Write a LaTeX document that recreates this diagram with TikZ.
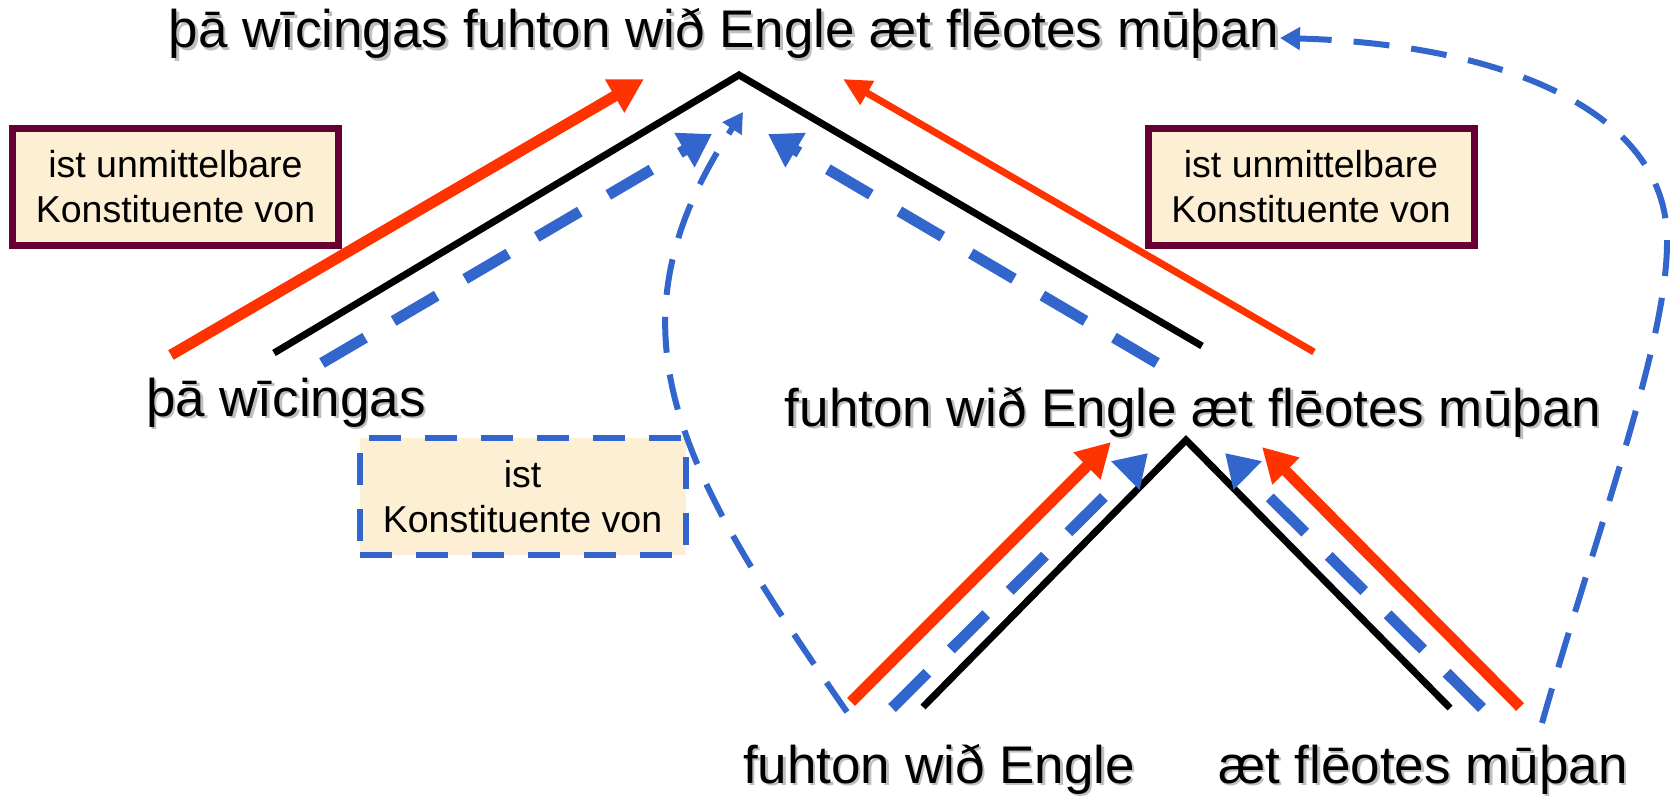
\documentclass[tikz,border=0pt]{standalone}
\usepackage{fontspec}
\setmainfont{Liberation Sans}
\usetikzlibrary{arrows.meta}
\definecolor{kred}{HTML}{FF3300}
\definecolor{kblue}{HTML}{3366CC}
\definecolor{boxrim}{HTML}{660033}
\definecolor{boxcream}{HTML}{FCEFD4}
\newcommand{\boxwd}{326pt}
\newcommand{\boxht}{117pt}
\newcommand{\shd}[1]{\rlap{\kern2.5pt\raisebox{-2.5pt}{\textcolor{black!25}{#1}}}#1}

\begin{document}
\begin{tikzpicture}[x=1pt,y=-1pt]
                \useasboundingbox (0,0) rectangle (1670,797);

                \begin{scope}[every node/.style={inner sep=0pt,anchor=base,font=\fontsize{53}{60}\selectfont}]
                    \node (S) at (724,48) {\shd{þā wīcingas fuhton wið Engle æt flēotes mūþan}};
                    \node (NP) at (286,416) {\shd{þā wīcingas}};
                    \node (VP) at (1193,426) {\shd{fuhton wið Engle æt flēotes mūþan}};
                    \node (V) at (939,783) {\shd{fuhton wið Engle}};
                    \node (PP) at (1423,783) {\shd{æt flēotes mūþan}};
                \end{scope}

                \begin{scope}[every node/.style={rectangle,fill=boxcream,minimum width=\boxwd,minimum height=\boxht,inner sep=0pt,align=center,font=\fontsize{37.5}{45}\selectfont}]
                    \node[draw=boxrim,line width=7pt] (ukl) at (175.5,187) {ist unmittelbare\\Konstituente von};
                    \node[draw=boxrim,line width=7pt] (ukr) at (1311,187) {ist unmittelbare\\Konstituente von};
                    \node[draw=kblue,line width=6pt,dash pattern=on 32pt off 24pt] (k) at (522.5,496.5) {ist\\Konstituente von};
                \end{scope}

                % top tree
                \coordinate (S-top) at (739,75);
                \coordinate (NP-k) at (274,353);
                \coordinate (VP-k) at (1202,346);
                \coordinate (NP-r) at (171,355);
                \coordinate (S-rl) at (644,79);
                \coordinate (VP-r) at (1314,352);
                \coordinate (S-rr) at (843,79);
                \coordinate (NP-b) at (322,363);
                \coordinate (S-bl) at (712,134);
                \coordinate (VP-b) at (1157,363);
                \coordinate (S-br) at (768,134);
                % lower tree
                \coordinate (VP-top) at (1186,440);
                \coordinate (V-k) at (923,707);
                \coordinate (PP-k) at (1450,708);
                \coordinate (V-r) at (851,702);
                \coordinate (VP-rl) at (1111,442);
                \coordinate (PP-r) at (1520,707);
                \coordinate (VP-rr) at (1262,447);
                \coordinate (V-b) at (892,708);
                \coordinate (VP-bl) at (1148,453);
                \coordinate (PP-b) at (1482,708);
                \coordinate (VP-br) at (1225,453);
                % long curves
                \coordinate (V-c) at (847,712);
                \coordinate (S-c) at (743,112);
                \coordinate (PP-c) at (1542,723);
                \coordinate (S-e) at (1280,38);

                \begin{scope}[line width=7pt]
                    \draw (NP-k) -- (S-top) -- (VP-k);
                    \draw (V-k) -- (VP-top) -- (PP-k);
                \end{scope}

                \begin{scope}[>={Triangle[length=34pt,width=36pt]},
                    every edge/.style={draw=kred,line width=11pt}]
                    \path [->] (NP-r) edge (S-rl);
                    \path [->] (V-r) edge (VP-rl);
                    \path [->] (PP-r) edge (VP-rr);
                \end{scope}

                \begin{scope}[>={Triangle[length=28pt,width=26pt]},
                    every edge/.style={draw=kred,line width=7pt}]
                    \path [->] (VP-r) edge (S-rr);
                \end{scope}

                \begin{scope}[>={Triangle[length=32pt,width=38pt]},
                    every edge/.style={draw=kblue,line width=11pt,dash pattern=on 50pt off 33pt}]
                    \path [->] (NP-b) edge (S-bl);
                    \path [->] (VP-b) edge (S-br);
                    \path [->] (V-b) edge (VP-bl);
                    \path [->] (PP-b) edge (VP-br);
                \end{scope}

                \begin{scope}[>={Triangle[length=20pt,width=22pt]},
                    kblue,line width=6pt,dash pattern=on 36pt off 22pt]
                    \draw [->] (V-c) .. controls (676,466) and (600,328) .. (S-c);
                    \draw [->] (PP-c) .. controls (1600,520) and (1668,340) .. (1667,240)
                        .. controls (1667,110) and (1500,44) .. (S-e);
                \end{scope}
            \end{tikzpicture}
\end{document}
